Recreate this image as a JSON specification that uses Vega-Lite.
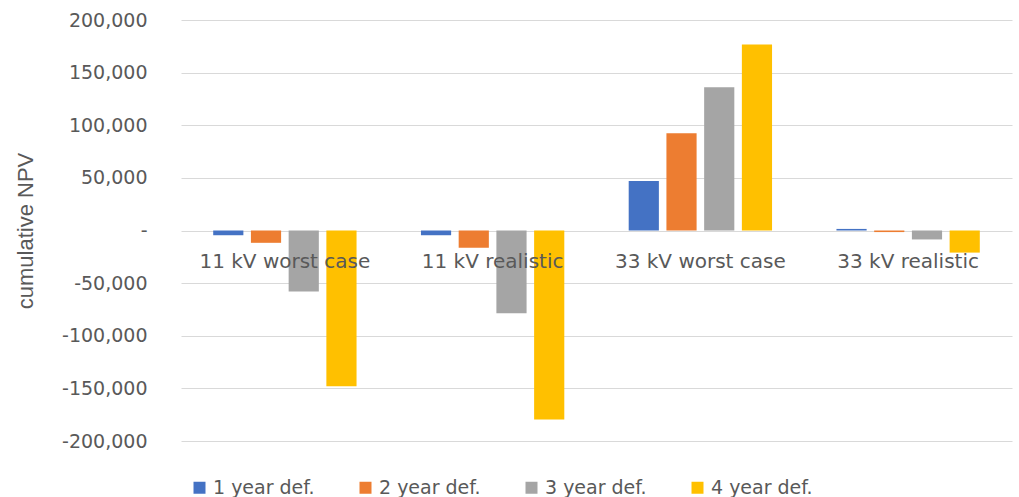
{
  "$schema": "https://vega.github.io/schema/vega-lite/v6.json",
  "width": 831,
  "height": 421,
  "autosize": {"type": "none"},
  "padding": {"left": 181, "top": 20, "right": 7, "bottom": 56},
  "background": "white",
  "config": {
    "view": {"stroke": null},
    "font": "DejaVu Sans"
  },
  "data": {
    "values": [
      {"case": "11 kV worst case", "series": "1 year def.", "npv": -4500},
      {"case": "11 kV worst case", "series": "2 year def.", "npv": -11700},
      {"case": "11 kV worst case", "series": "3 year def.", "npv": -58000},
      {"case": "11 kV worst case", "series": "4 year def.", "npv": -148000},
      {"case": "11 kV realistic", "series": "1 year def.", "npv": -4500},
      {"case": "11 kV realistic", "series": "2 year def.", "npv": -16500},
      {"case": "11 kV realistic", "series": "3 year def.", "npv": -78600},
      {"case": "11 kV realistic", "series": "4 year def.", "npv": -179500},
      {"case": "33 kV worst case", "series": "1 year def.", "npv": 47000},
      {"case": "33 kV worst case", "series": "2 year def.", "npv": 92300},
      {"case": "33 kV worst case", "series": "3 year def.", "npv": 136200},
      {"case": "33 kV worst case", "series": "4 year def.", "npv": 176700},
      {"case": "33 kV realistic", "series": "1 year def.", "npv": 1500},
      {"case": "33 kV realistic", "series": "2 year def.", "npv": -1500},
      {"case": "33 kV realistic", "series": "3 year def.", "npv": -8500},
      {"case": "33 kV realistic", "series": "4 year def.", "npv": -21000}
    ]
  },
  "mark": {"type": "bar"},
  "encoding": {
    "x": {
      "field": "case",
      "type": "nominal",
      "sort": ["11 kV worst case", "11 kV realistic", "33 kV worst case", "33 kV realistic"],
      "scale": {"paddingInner": 0.31, "paddingOuter": 0.155},
      "axis": {
        "title": null,
        "labelAngle": 0,
        "domain": false,
        "ticks": false,
        "offset": -190,
        "labelPadding": 0,
        "labelBaseline": "top",
        "labelFontSize": 20,
        "labelColor": "#595959",
        "labelFont": "DejaVu Sans",
        "zindex": 1
      }
    },
    "xOffset": {
      "field": "series",
      "type": "nominal",
      "scale": {"paddingInner": 0.2}
    },
    "y": {
      "field": "npv",
      "type": "quantitative",
      "scale": {"domain": [-200000, 200000], "nice": false, "zero": true},
      "axis": {
        "title": "cumulative NPV",
        "titleFont": "Liberation Sans",
        "titleFontSize": 22,
        "titleFontWeight": "normal",
        "titleColor": "#595959",
        "titleX": -144,
        "values": [-200000, -150000, -100000, -50000, 0, 50000, 100000, 150000, 200000],
        "labelExpr": "datum.value == 0 ? '-' : (datum.value < 0 ? '-' + format(-datum.value, ',') : format(datum.value, ','))",
        "labelFontSize": 19,
        "labelColor": "#595959",
        "labelPadding": 34,
        "ticks": false,
        "domain": false,
        "grid": true,
        "gridColor": "#d9d9d9",
        "gridWidth": 1.2
      }
    },
    "color": {
      "field": "series",
      "type": "nominal",
      "scale": {
        "domain": ["1 year def.", "2 year def.", "3 year def.", "4 year def."],
        "range": ["#4472C4", "#ED7D31", "#A5A5A5", "#FFC000"]
      },
      "legend": {
        "title": null,
        "orient": "none",
        "legendX": 9,
        "legendY": 458,
        "direction": "horizontal",
        "columns": 4,
        "symbolType": "square",
        "symbolSize": 144,
        "symbolStrokeWidth": 0,
        "labelFontSize": 19,
        "labelColor": "#595959",
        "labelOffset": 4,
        "columnPadding": 41
      }
    }
  }
}
